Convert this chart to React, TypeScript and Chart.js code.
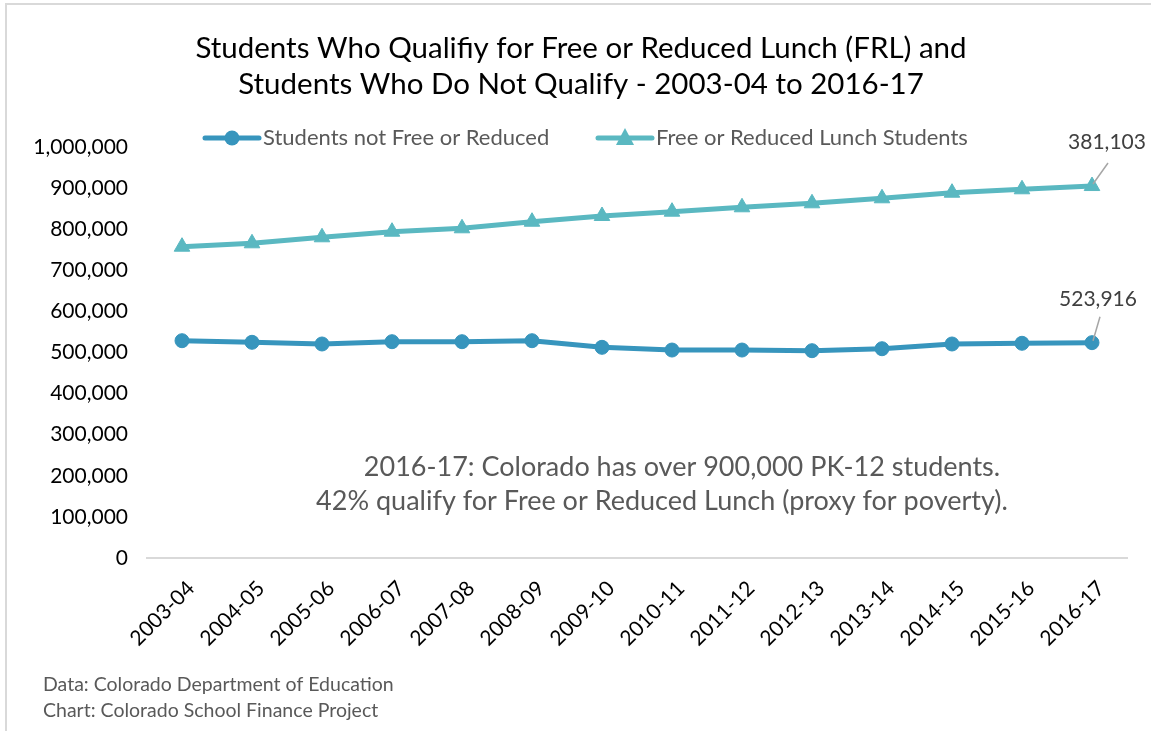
import React, { useEffect, useRef } from "react";
import { Chart, registerables } from "chart.js";

Chart.register(...registerables);

const labels = [
  "2003-04", "2004-05", "2005-06", "2006-07", "2007-08", "2008-09", "2009-10",
  "2010-11", "2011-12", "2012-13", "2013-14", "2014-15", "2015-16", "2016-17",
];
const notFrl = [528700, 524800, 520700, 526300, 526300, 528700, 512600, 506000, 506000, 504400, 509200, 520700, 522400, 523916];
const frl = [228700, 240900, 259600, 267600, 275900, 289500, 319500, 336600, 347300, 358600, 366000, 368100, 374700, 381103];
const seriesNames = ["Students not Free or Reduced", "Free or Reduced Lunch Students"];
const titleLines = [
  "Students Who Qualifiy for Free or Reduced Lunch (FRL) and",
  "Students Who Do Not Qualify - 2003-04 to 2016-17",
];
const noteLines = [
  "2016-17: Colorado has over 900,000 PK-12 students.",
  "42% qualify for Free or Reduced Lunch (proxy for poverty).",
];
const sourceLines = ["Data: Colorado Department of Education", "Chart: Colorado School Finance Project"];

const C1 = "#3795BD";
const C2 = "#5AB8C1";
const FONT = "Lato, 'Open Sans', sans-serif";
const fmt = (v: number) => v.toLocaleString("en-US");

const decor = {
  id: "decor",
  beforeDraw(chart: any) {
    const ctx = chart.ctx;
    ctx.save();
    ctx.fillStyle = "#fff";
    ctx.fillRect(0, 0, chart.width, chart.height);
    ctx.strokeStyle = "#d9d9d9";
    ctx.lineWidth = 2;
    ctx.strokeRect(6, 4, 1300, 900);
    ctx.restore();
  },
  afterDatasetsDraw(chart: any) {
    const ctx = chart.ctx;
    ctx.save();
    const m0 = chart.getDatasetMeta(0).data;
    const m1 = chart.getDatasetMeta(1).data;
    const p0 = m0[m0.length - 1];
    const p1 = m1[m1.length - 1];
    ctx.font = `21px ${FONT}`;
    ctx.fillStyle = "#404040";
    ctx.textAlign = "center";
    ctx.textBaseline = "middle";
    ctx.fillText(fmt(frl[frl.length - 1]), p1.x + 15, p1.y - 44);
    ctx.fillText(fmt(notFrl[notFrl.length - 1]), p0.x + 6, p0.y - 43);
    ctx.strokeStyle = "#a6a6a6";
    ctx.lineWidth = 1.5;
    ctx.beginPath();
    ctx.moveTo(p1.x + 16, p1.y - 23);
    ctx.lineTo(p1.x + 1, p1.y - 2);
    ctx.moveTo(p0.x + 8, p0.y - 26);
    ctx.lineTo(p0.x + 1, p0.y - 2);
    ctx.stroke();
    ctx.restore();
  },
  afterDraw(chart: any) {
    const ctx = chart.ctx;
    ctx.save();
    ctx.fillStyle = "#000";
    ctx.font = `29.5px ${FONT}`;
    ctx.textAlign = "center";
    ctx.textBaseline = "middle";
    ctx.fillText(titleLines[0], 581, 48);
    ctx.fillText(titleLines[1], 581, 84);
    ctx.lineCap = "round";
    ctx.lineWidth = 5;
    ctx.strokeStyle = C1;
    ctx.beginPath();
    ctx.moveTo(205, 138);
    ctx.lineTo(259, 138);
    ctx.stroke();
    ctx.fillStyle = C1;
    ctx.beginPath();
    ctx.arc(232, 138, 7.5, 0, Math.PI * 2);
    ctx.fill();
    ctx.strokeStyle = C2;
    ctx.beginPath();
    ctx.moveTo(598, 138);
    ctx.lineTo(652, 138);
    ctx.stroke();
    ctx.fillStyle = C2;
    ctx.beginPath();
    ctx.moveTo(625, 128);
    ctx.lineTo(634, 145);
    ctx.lineTo(616, 145);
    ctx.closePath();
    ctx.fill();
    ctx.fillStyle = "#595959";
    ctx.font = `22px ${FONT}`;
    ctx.textAlign = "left";
    ctx.fillText(seriesNames[0], 263, 138);
    ctx.fillText(seriesNames[1], 656, 138);
    ctx.font = `27px ${FONT}`;
    ctx.textAlign = "center";
    ctx.fillText(noteLines[0], 682, 467);
    ctx.fillText(noteLines[1], 662, 501);
    ctx.font = `19.5px ${FONT}`;
    ctx.textAlign = "left";
    ctx.fillText(sourceLines[0], 43, 685);
    ctx.fillText(sourceLines[1], 43, 711);
    ctx.restore();
  },
};

export default function App() {
  const ref = useRef<HTMLCanvasElement>(null);
  useEffect(() => {
    document.body.style.margin = "0";
    const chart = new Chart(ref.current!, {
      type: "line",
      data: {
        labels,
        datasets: [
          {
            label: seriesNames[0],
            data: notFrl,
            borderColor: C1,
            backgroundColor: C1,
            borderWidth: 5,
            pointStyle: "circle",
            pointRadius: 7,
            pointBorderWidth: 1,
            fill: false,
            tension: 0,
          },
          {
            label: seriesNames[1],
            data: frl,
            borderColor: C2,
            backgroundColor: C2,
            borderWidth: 5,
            pointStyle: "triangle",
            pointRadius: 9,
            pointBorderWidth: 1,
            fill: false,
            tension: 0,
          },
        ],
      },
      options: {
        responsive: false,
        animation: false,
        devicePixelRatio: 1,
        layout: { padding: { top: 147, right: 24, bottom: 0, left: 0 } },
        plugins: { legend: { display: false }, title: { display: false }, tooltip: { enabled: false } },
        scales: {
          x: {
            offset: true,
            grid: { display: false },
            border: { display: true, color: "#d9d9d9", width: 2 },
            ticks: {
              color: "#000",
              font: { family: FONT, size: 21 },
              maxRotation: 45,
              minRotation: 45,
              padding: 10,
              labelOffset: 9,
              autoSkip: false,
            },
            afterFit: (s: any) => { s.height = 173; },
          },
          y: {
            stacked: true,
            min: 0,
            max: 1000000,
            grid: { display: false },
            border: { display: false },
            ticks: {
              stepSize: 100000,
              color: "#000",
              font: { family: FONT, size: 21 },
              padding: 11,
              callback: (v: any) => fmt(Number(v)),
            },
            afterFit: (s: any) => { s.width = 147; },
          },
        },
      },
      plugins: [decor],
    });
    return () => chart.destroy();
  }, []);
  return (
    <div style={{ position: "absolute", left: 0, top: 0, width: 1151, height: 731 }}>
      <canvas ref={ref} width={1151} height={731} style={{ width: 1151, height: 731 }} />
    </div>
  );
}
